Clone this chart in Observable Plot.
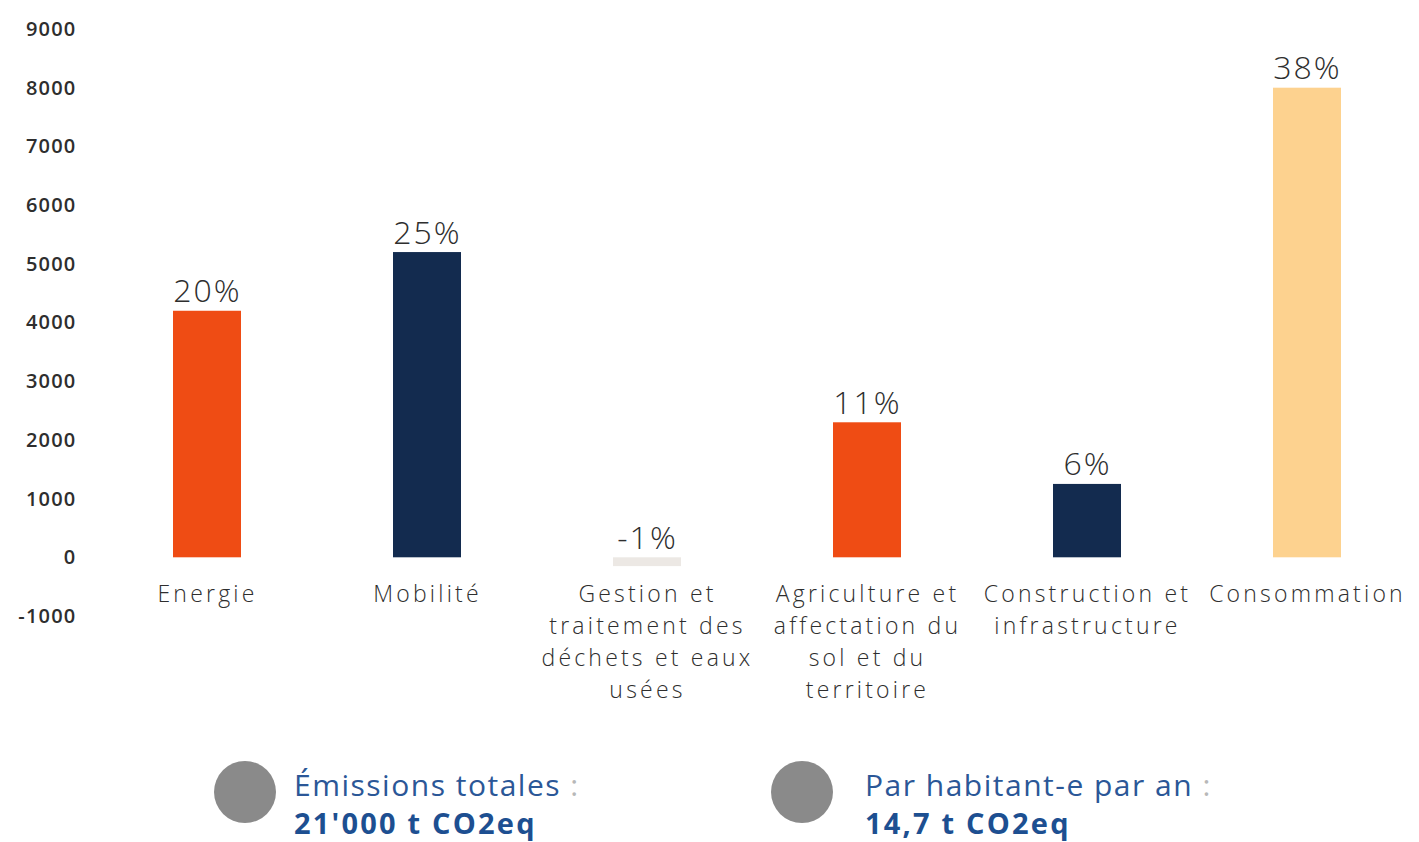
<!DOCTYPE html>
<html>
<head>
<meta charset="utf-8">
<script src="https://cdn.jsdelivr.net/npm/d3@7"></script>
<script src="https://cdn.jsdelivr.net/npm/@observablehq/plot@0.6"></script>
<style>
  html, body { margin: 0; padding: 0; background: #fff; }
  body { position: relative; width: 1419px; height: 842px; overflow: hidden; font-family: "Open Sans", sans-serif; }
  #chart { position: absolute; left: 0; top: 0; }
  .dot { position: absolute; width: 62px; height: 62px; border-radius: 50%; background: #8a8a8a; }
  .lg { position: absolute; color: #2b5797; line-height: 38px; white-space: nowrap; }
  .lg .l1 { font-size: 30px; font-weight: 400; letter-spacing: 1.5px; }
  .lg .l1 span { color: #b8b8b8; }
  .lg .l2 { font-size: 29px; font-weight: 700; color: #1d4f91; letter-spacing: 2.2px; }
</style>
</head>
<body>
<div id="chart"></div>
<div class="dot" style="left:214px; top:761px;"></div>
<div class="lg" style="left:294px; top:766px;"><div class="l1">Émissions totales <span>:</span></div><div class="l2">21'000 t CO2eq</div></div>
<div class="dot" style="left:771px; top:761px;"></div>
<div class="lg" style="left:865px; top:766px;"><div class="l1">Par habitant-e par an <span>:</span></div><div class="l2">14,7 t CO2eq</div></div>
<script>
const categories = ["Energie", "Mobilité", "Gestion et\ntraitement des\ndéchets et eaux\nusées", "Agriculture et\naffectation du\nsol et du\nterritoire", "Construction et\ninfrastructure", "Consommation"];
const values = [4200, 5200, -150, 2300, 1250, 8000];
const percents = ["20%", "25%", "-1%", "11%", "6%", "38%"];
const colors = ["#ef4c14", "#132b4f", "#ece8e4", "#ef4c14", "#132b4f", "#fdd28f"];
const yTicks = [-1000, 0, 1000, 2000, 3000, 4000, 5000, 6000, 7000, 8000, 9000];

const data = categories.map((c, i) => ({cat: c, v: values[i], pct: percents[i], col: colors[i]}));

const chart = Plot.plot({
  width: 1419,
  height: 730,
  marginLeft: 96,
  marginRight: 1,
  marginTop: 29,
  marginBottom: 114,
  style: {fontFamily: "'Open Sans', sans-serif", color: "#333", background: "white"},
  x: {domain: categories, paddingInner: 0.69, paddingOuter: 0.345, axis: null},
  y: {domain: [-1000, 9000], axis: null},
  marks: [
    Plot.ruleY(yTicks, {x1: 100, x2: 1419, stroke: "#f1f1f1", strokeWidth: 1.5}),
    Plot.axisY({ticks: yTicks, tickSize: 0, tickPadding: 20, tickFormat: d => String(d), label: null, fontSize: 20, fontWeight: 600, fill: "#2e2e2e"}),
    Plot.barY(data, {x: "cat", y: "v", fill: "col"}),
    Plot.text(data, {x: "cat", y: d => Math.max(d.v, 0), text: "pct", lineAnchor: "bottom", dy: -9, fontSize: 32, fontWeight: 300, fill: "#2e2e2e"}),
    Plot.text(data, {x: "cat", y: 0, text: "cat", lineAnchor: "top", dy: 21, fontSize: 23, fontWeight: 300, lineHeight: 1.4, fill: "#2e2e2e"})
  ]
});
// letter spacing (not a Plot option): applied to the rendered groups
const textGroups = chart.querySelectorAll('g[aria-label="text"]');
if (textGroups[0]) textGroups[0].setAttribute("letter-spacing", "2");
if (textGroups[1]) textGroups[1].setAttribute("letter-spacing", "3.2");
const yAx = chart.querySelector('g[aria-label="y-axis tick label"]');
if (yAx) yAx.setAttribute("letter-spacing", "1.2");
document.getElementById("chart").appendChild(chart);
</script>
</body>
</html>
